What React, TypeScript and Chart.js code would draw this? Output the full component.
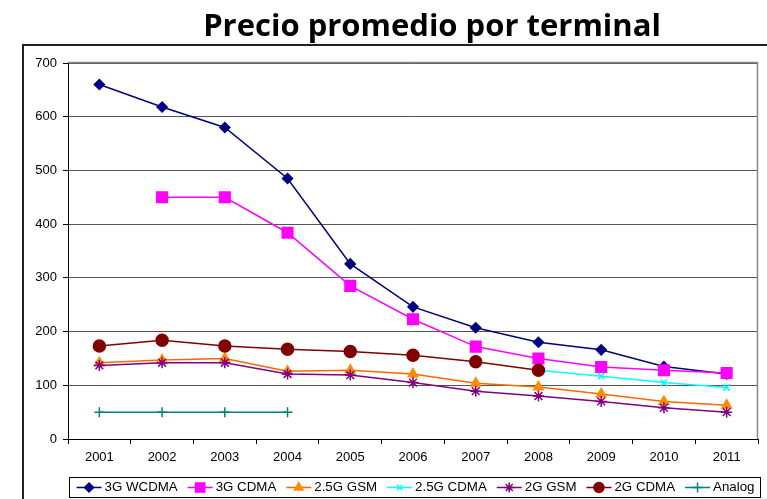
import React, { useEffect, useRef } from 'react';
import { Chart, registerables } from 'chart.js';
import { drawPoint } from 'chart.js/helpers';

Chart.register(...registerables);

const TITLE = 'Precio promedio por terminal';
const years = ['2001', '2002', '2003', '2004', '2005', '2006', '2007', '2008', '2009', '2010', '2011'];
const seriesNames = ['3G WCDMA', '3G CDMA', '2.5G GSM', '2.5G CDMA', '2G GSM', '2G CDMA', 'Analog'];
const wcdma3g = [660, 618, 580, 485, 326, 246, 207, 180, 166, 135, 121];
const cdma3g = [null, 450, 450, 384, 285, 223, 172, 150, 134, 128, 123];
const gsm25g = [142, 147, 150, 126, 128, 121, 104, 97, 84, 70, 63];
const cdma25g = [null, null, null, null, null, null, null, 128, 117, 105, 96];
const gsm2g = [137, 142, 142, 121, 119, 105, 89, 80, 70, 58, 50];
const cdma2g = [173, 184, 173, 167, 163, 156, 144, 128, null, null, null];
const analog = [50, 50, 50, 50, null, null, null, null, null, null, null];
const yMin = 0;
const yMax = 700;
const yStep = 100;

const styles = [
  { line: '#000080', fill: '#000080', point: 'rectRot', radius: 5, lr: 4.5 },
  { line: '#FF00FF', fill: '#FF00FF', point: 'rect', radius: 7.5, lr: 6.5 },
  { line: '#FF6600', fill: '#FF8C00', point: 'triangle', radius: 5.5, lr: 5 },
  { line: '#00FFFF', fill: '#00FFFF', point: 'crossRot', radius: 4.5, lr: 4 },
  { line: '#800080', fill: '#800080', point: 'star', radius: 5.5, lr: 5 },
  { line: '#800000', fill: '#800000', point: 'circle', radius: 6, lr: 5 },
  { line: '#008080', fill: '#008080', point: 'cross', radius: 5, lr: 5 },
];

const allData = [wcdma3g, cdma3g, gsm25g, cdma25g, gsm2g, cdma2g, analog];

const FONT = '"Liberation Sans", Arial, sans-serif';

const decor = {
  id: 'decor',
  beforeDraw(chart: any) {
    const ctx = chart.ctx;
    ctx.save();
    ctx.fillStyle = '#ffffff';
    ctx.fillRect(0, 0, chart.width, chart.height);
    ctx.strokeStyle = '#222';
    ctx.lineWidth = 2;
    ctx.beginPath();
    ctx.moveTo(23, chart.height);
    ctx.lineTo(23, 45);
    ctx.lineTo(chart.width, 45);
    ctx.stroke();
    ctx.fillStyle = '#000';
    ctx.font = 'bold 31px "Open Sans", sans-serif';
    ctx.textAlign = 'center';
    ctx.textBaseline = 'alphabetic';
    ctx.fillText(TITLE, 432, 36);
    ctx.restore();
  },
  beforeDatasetsDraw(chart: any) {
    const ctx = chart.ctx;
    const a = chart.chartArea;
    ctx.save();
    ctx.strokeStyle = '#888';
    ctx.lineWidth = 1.5;
    ctx.beginPath();
    ctx.moveTo(a.left, a.top - 0.5);
    ctx.lineTo(a.right - 0.5, a.top - 0.5);
    ctx.lineTo(a.right - 0.5, a.bottom);
    ctx.stroke();
    ctx.restore();
  },
  afterDraw(chart: any) {
    const ctx = chart.ctx;
    ctx.save();
    const boxL = 69, boxR = 760, boxT = 477, boxB = 497;
    ctx.strokeStyle = '#000';
    ctx.lineWidth = 1;
    ctx.strokeRect(boxL + 0.5, boxT + 0.5, boxR - boxL, boxB - boxT);
    ctx.font = '13.3px ' + FONT;
    const segW = 25, gapT = 3, gapI = 10;
    const widths = seriesNames.map((n) => ctx.measureText(n).width);
    const total = widths.reduce((s, w) => s + segW + gapT + w, 0) + gapI * (seriesNames.length - 1);
    let x = (boxL + boxR) / 2 - total / 2 + 1;
    const cy = (boxT + boxB) / 2 + 0.5;
    seriesNames.forEach((name, i) => {
      const st = styles[i];
      ctx.strokeStyle = st.line;
      ctx.lineWidth = 1.5;
      ctx.beginPath();
      ctx.moveTo(x, cy);
      ctx.lineTo(x + segW, cy);
      ctx.stroke();
      ctx.fillStyle = st.fill;
      ctx.strokeStyle = st.fill;
      ctx.lineWidth = 1.5;
      drawPoint(ctx, { pointStyle: st.point, radius: st.lr, rotation: 0, borderWidth: 1.5 } as any, x + segW / 2, cy);
      ctx.fillStyle = '#000';
      ctx.textAlign = 'left';
      ctx.textBaseline = 'middle';
      ctx.fillText(name, x + segW + gapT, cy);
      x += segW + gapT + widths[i] + gapI;
    });
    ctx.restore();
  },
};

export default function App() {
  const ref = useRef<HTMLCanvasElement>(null);
  useEffect(() => {
    if (!ref.current) return;
    const datasets = seriesNames.map((name, i) => ({
      label: name,
      data: allData[i],
      borderColor: styles[i].line,
      backgroundColor: styles[i].fill,
      borderWidth: 1.5,
      pointStyle: styles[i].point,
      pointRadius: styles[i].radius,
      pointBackgroundColor: styles[i].fill,
      pointBorderColor: styles[i].fill,
      pointBorderWidth: 1.5,
      tension: 0,
      spanGaps: false,
      order: 10 - i,
    }));
    const chart = new Chart(ref.current, {
      type: 'line',
      data: { labels: years, datasets },
      plugins: [decor],
      options: {
        responsive: false,
        animation: false,
        devicePixelRatio: 1,
        layout: { padding: { left: 0, top: 63, right: 5, bottom: 35 } },
        plugins: { legend: { display: false }, title: { display: false }, tooltip: { enabled: false } },
        scales: {
          x: {
            type: 'category',
            offset: true,
            grid: { offset: true, drawOnChartArea: false, drawTicks: true, tickLength: 5, tickColor: '#000', lineWidth: 1 },
            border: { color: '#000', width: 1 },
            ticks: { color: '#000', font: { family: FONT, size: 13 }, padding: 6, maxRotation: 0, autoSkip: false },
            afterFit: (s: any) => { s.height = 25; },
          },
          y: {
            min: yMin,
            max: yMax,
            grid: { color: '#555', lineWidth: 1, tickLength: 5, tickColor: '#000' },
            border: { color: '#000', width: 1 },
            ticks: { stepSize: yStep, color: '#000', font: { family: FONT, size: 13 }, padding: 6 },
            afterFit: (s: any) => { s.width = 68; },
          },
        },
      },
    });
    return () => chart.destroy();
  }, []);
  return (
    <div style={{ position: 'fixed', left: 0, top: 0, width: 767, height: 499, background: '#fff' }}>
      <canvas ref={ref} width={767} height={499} />
    </div>
  );
}
